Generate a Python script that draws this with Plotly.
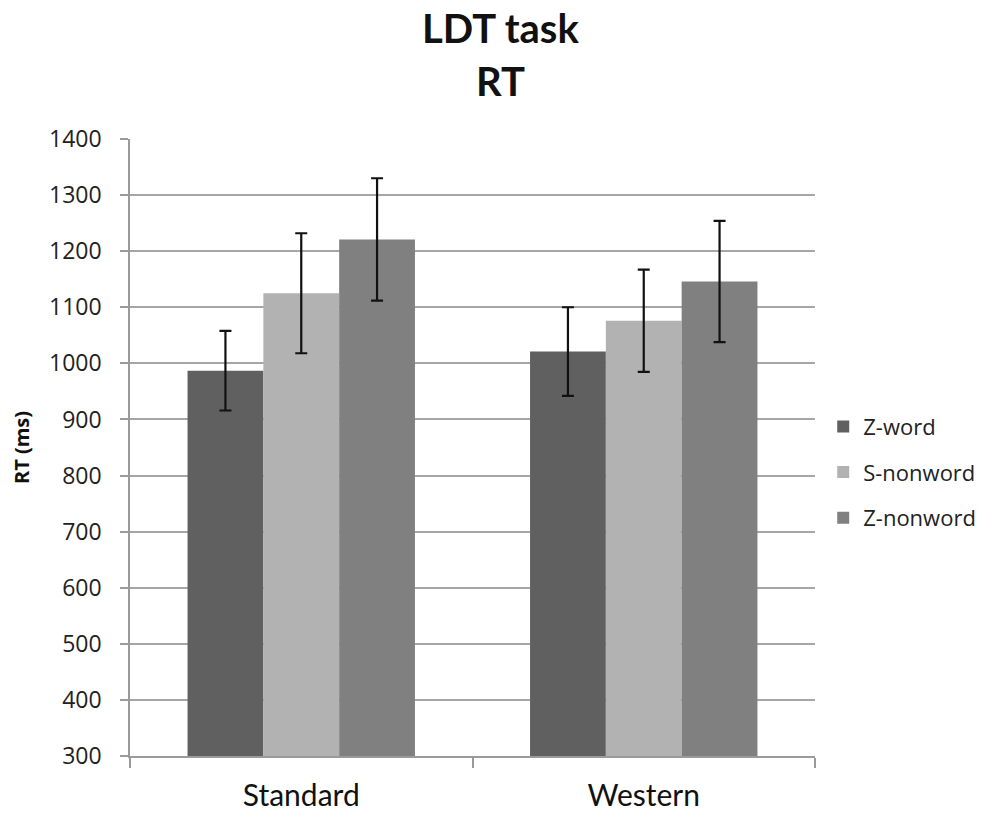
import plotly.graph_objects as go

# Lexical decision task: mean reaction times per variety and item type
categories = ["Standard", "Western"]
series_names = ["Z-word", "S-nonword", "Z-nonword"]
rt_means = {
    "Z-word": [987, 1021],
    "S-nonword": [1125, 1076],
    "Z-nonword": [1221, 1146],
}
rt_errors = {
    "Z-word": [71, 79],
    "S-nonword": [107, 91],
    "Z-nonword": [109, 108],
}
y_ticks = [300, 400, 500, 600, 700, 800, 900, 1000, 1100, 1200, 1300, 1400]
title_lines = ["LDT task", "RT"]

colors = {"Z-word": "#606060", "S-nonword": "#b2b2b2", "Z-nonword": "#808080"}

fig = go.Figure()
for name in series_names:
    fig.add_trace(go.Bar(
        x=categories,
        y=rt_means[name],
        name=name,
        legendgroup=name,
        marker=dict(color=colors[name], line=dict(width=0)),
        error_y=dict(type="data", array=rt_errors[name], visible=True,
                     color="#111111", thickness=2.2, width=6),
    ))

# two-line bold heading, placed in container pixels above the plot
for text, y_px in zip(title_lines, [28, 81]):
    fig.add_annotation(
        text=f"<b>{text}</b>",
        xref="paper", yref="paper",
        x=(500 - 130) / (1001 - 130 - 186), xanchor="center",
        y=1 + (139 - y_px) / (821 - 139 - 65), yanchor="middle",
        showarrow=False,
        font=dict(family="Lato", size=40, color="#111111"),
    )

fig.update_layout(
    width=1001, height=821,
    paper_bgcolor="white", plot_bgcolor="white",
    margin=dict(l=130, r=186, t=139, b=65),
    barmode="group",
    bargap=0.336, bargroupgap=0,
    font=dict(family="Lato", color="#222222"),
    legend=dict(
        x=1.012, xanchor="left", y=0.46, yanchor="middle",
        font=dict(family="Open Sans", size=22, color="#222222"),
        tracegroupgap=14,
        bgcolor="rgba(0,0,0,0)",
    ),
    showlegend=True,
)

fig.update_yaxes(
    range=[300, 1400],
    tickvals=y_ticks,
    ticktext=[str(v) for v in y_ticks],
    showgrid=True, gridcolor="#a6a6a6", gridwidth=1.6,
    showline=True, linecolor="#9a9a9a", linewidth=1.6,
    ticks="outside", ticklen=8, tickcolor="#9a9a9a", tickwidth=1.5,
    ticklabelstandoff=14,
    tickfont=dict(family="Open Sans", size=23, color="#222222"),
    title=dict(text="<b>RT (ms)</b>", font=dict(family="Open Sans", size=20, color="#111111"),
               standoff=14),
    zeroline=False,
    automargin=False,
)
fig.update_xaxes(
    showline=True, linecolor="#9a9a9a", linewidth=1.6,
    ticks="outside", tickson="boundaries", ticklen=10, tickcolor="#9a9a9a", tickwidth=1.5,
    ticklabelstandoff=12,
    tickfont=dict(family="Lato", size=30, color="#111111"),
    showgrid=False,
    automargin=False,
)

fig.write_html("out.html")
